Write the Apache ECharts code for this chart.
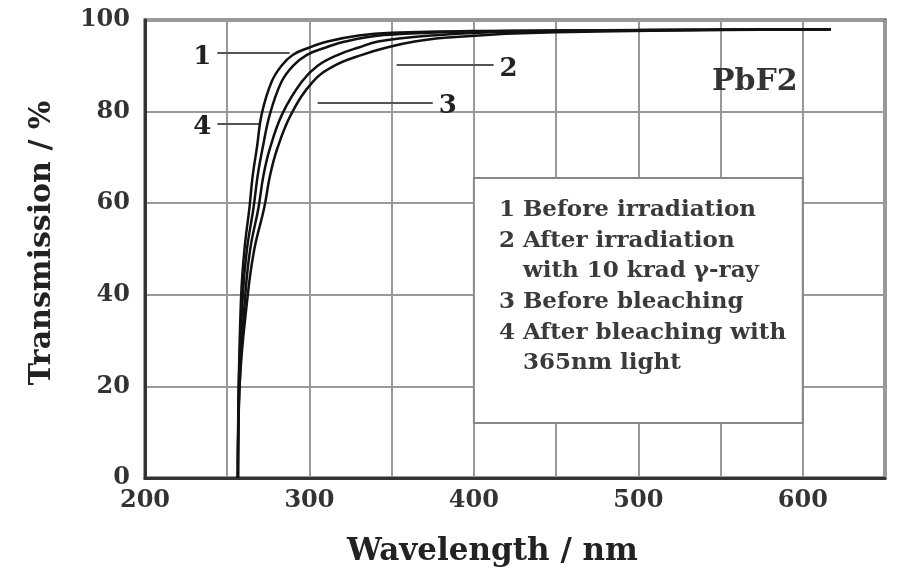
<!DOCTYPE html>
<html>
<head>
<meta charset="utf-8">
<script src="https://cdn.jsdelivr.net/npm/echarts@6/dist/echarts.min.js"></script>
<style>
html,body{margin:0;padding:0;background:#fff;}
#chart{width:902px;height:580px;}
</style>
</head>
<body>
<div id="chart"></div>
<script>
// Curve data: [wavelength nm, transmission %]
const curve1 = [[256.5,0],[257,20],[258.5,40],[260.5,50],[263.5,59],[265.5,66],[268,72],[271,79.5],[277,86.5],[283,90],[290,92.4],[300,94],[311,95.3],[330,96.6],[350,97.2],[400,97.6],[500,97.8],[617,98]];
const curve4 = [[256.5,0],[257,20],[259.5,40],[262,50],[266,59],[268.5,66],[271.5,72],[276,79.5],[283,86.5],[290,90],[298.5,92.4],[310,94],[321.7,95.3],[345,96.7],[380,97.3],[450,97.7],[617,98]];
const curve3 = [[256.5,0],[257.5,20],[261,40],[264,50],[269,59],[272,66],[276,72],[283.5,79.5],[295.3,86.5],[305,90],[317.4,92.4],[330,94],[341.7,95.3],[370,96.5],[410,97.3],[480,97.7],[617,98]];
const curve2 = [[256.5,0],[257.5,20],[262.5,40],[266.5,50],[272.5,59],[276,66],[280.5,72],[289,79.5],[302,86.5],[315,90],[332,92.4],[347,94],[364,95.3],[382,96.1],[410,96.8],[450,97.3],[520,97.7],[617,98]];
const curves = [curve1, curve2, curve3, curve4];
const curveNames = ['1', '2', '3', '4'];
const xTicks = [200, 300, 400, 500, 600];
const yTicks = [0, 20, 40, 60, 80, 100];
const legendLines = ['1 Before irradiation', '2 After irradiation', '   with 10 krad γ-ray', '3 Before bleaching', '4 After bleaching with', '   365nm light'];
const sampleName = 'PbF2';

const serif = '"DejaVu Serif", "Liberation Serif", serif';
const chart = echarts.init(document.getElementById('chart'));

const series = curves.map((c, i) => ({
  name: curveNames[i],
  type: 'line',
  data: c,
  showSymbol: false,
  smooth: 0.4,
  lineStyle: { color: '#111', width: 2.5 },
  z: 5
}));

// annotations: leader lines with curve numbers
const leaders = [
  { y: 92.8, x0: 244, x1: 288, label: '1', side: 'start' },
  { y: 90.2, x0: 353, x1: 412, label: '2', side: 'end' },
  { y: 82.0, x0: 305, x1: 375, label: '3', side: 'end' },
  { y: 77.4, x0: 244, x1: 270, label: '4', side: 'start' }
];
series.push({
  type: 'line',
  data: [],
  silent: true,
  markLine: {
    symbol: 'none',
    silent: true,
    animation: false,
    lineStyle: { color: '#555', width: 2, type: 'solid' },
    data: leaders.map(l => [
      { coord: [l.x0, l.y] },
      { coord: [l.x1, l.y], label: { show: true, position: l.side, formatter: l.label, fontFamily: serif, fontWeight: 'bold', fontSize: 26, color: '#222', distance: 6, offset: [0, 4] } }
    ])
  },
  markArea: {
    silent: true,
    animation: false,
    itemStyle: { color: '#fff', borderColor: '#888', borderWidth: 2 },
    label: {
      show: true,
      position: 'insideTopLeft',
      distance: 0,
      padding: [18, 0, 0, 26],
      formatter: legendLines.join('\n'),
      fontFamily: serif,
      fontWeight: 'bold',
      fontSize: 23,
      lineHeight: 30.6,
      color: '#3a3a3a'
    },
    data: [[{ coord: [400, 65.5] }, { coord: [600, 12] }]]
  },
  z: 3
});

chart.setOption({
  animation: false,
  backgroundColor: '#fff',
  grid: { left: 145, right: 17, top: 20, bottom: 102, show: true, borderColor: '#333', borderWidth: 3, backgroundColor: 'transparent' },
  xAxis: {
    type: 'value', min: 200, max: 650, interval: 50,
    name: 'Wavelength / nm', nameLocation: 'middle', nameGap: 58,
    nameTextStyle: { fontFamily: serif, fontWeight: 'bold', fontSize: 31, color: '#222', padding: [0, 45, 0, 0] },
    axisLine: { show: true, lineStyle: { color: '#333', width: 3 } },
    axisTick: { show: false },
    splitLine: { show: true, lineStyle: { color: '#999', width: 2 } },
    axisLabel: { fontFamily: serif, fontWeight: 'bold', fontSize: 24, color: '#333', margin: 11,
      formatter: v => xTicks.indexOf(v) >= 0 ? String(v) : '' }
  },
  yAxis: {
    type: 'value', min: 0, max: 100, interval: 20,
    name: 'Transmission / %', nameLocation: 'middle', nameGap: 88,
    nameTextStyle: { fontFamily: serif, fontWeight: 'bold', fontSize: 30, color: '#222', padding: [0, 0, 0, 12] },
    axisLine: { show: true, lineStyle: { color: '#333', width: 3 } },
    axisTick: { show: false },
    splitLine: { show: true, lineStyle: { color: '#999', width: 2 } },
    axisLabel: { fontFamily: serif, fontWeight: 'bold', fontSize: 24, color: '#333', margin: 15,
      formatter: v => yTicks.indexOf(v) >= 0 ? String(v) : '' }
  },
  graphic: [{
    type: 'text', left: 712, top: 67, z: 10,
    style: { text: sampleName, fontFamily: serif, fontWeight: 'bold', fontSize: 30, fill: '#333' }
  }],
  series: series
});
</script>
</body>
</html>
